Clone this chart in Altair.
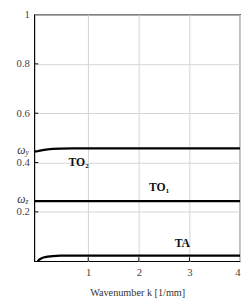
import altair as alt
import pandas as pd

# data
to2_k = [-0.065, 0.0, 0.1, 0.2, 0.3, 0.45, 0.7, 1.5, 4.0]
to2_w = [0.444, 0.446, 0.450, 0.453, 0.455, 0.456, 0.457, 0.457, 0.457]
to1_k = [-0.065, 1.0, 2.0, 3.0, 4.0]
to1_w = [0.244, 0.244, 0.244, 0.244, 0.244]
ta_k = [0.0, 0.03, 0.06, 0.1, 0.15, 0.2, 0.3, 0.45, 0.7, 4.0]
ta_w = [0.0, 0.006, 0.010, 0.014, 0.017, 0.019, 0.021, 0.0225, 0.023, 0.023]

label_text = ["TO\u2082", "TO\u2081", "TA"]
label_k = [0.81, 2.40, 2.86]
label_w = [0.40, 0.30, 0.072]

omega_sub = ["y", "z"]
omega_w = [0.452, 0.25]

x_ticks = [1, 2, 3, 4]
y_ticks = [0.2, 0.4, 0.6, 0.8, 1]

rows = []
for k, w in zip(to2_k, to2_w):
    rows.append({"k": k, "w": w, "s": "TO2"})
for k, w in zip(to1_k, to1_w):
    rows.append({"k": k, "w": w, "s": "TO1"})
for k, w in zip(ta_k, ta_w):
    rows.append({"k": k, "w": w, "s": "TA"})
curves = pd.DataFrame(rows)
labels = pd.DataFrame({"t": label_text, "k": label_k, "w": label_w})
omegas = pd.DataFrame({"sub": omega_sub, "w": omega_w})
xt = pd.DataFrame({"k": x_ticks[:-1]})
yt = pd.DataFrame({"w": y_ticks[:-1]})

FONT = "Liberation Serif"
xs = alt.Scale(domain=[-0.065, 4], nice=False, zero=False)
ys = alt.Scale(domain=[0, 1], nice=False, zero=False)

lines = alt.Chart(curves).mark_line(color="black", strokeWidth=2.3, clip=True).encode(
    x=alt.X("k:Q", scale=xs, title="Wavenumber k [1/mm]",
            axis=alt.Axis(values=x_ticks, grid=True, gridColor="#d4d4d4",
                          domain=False, ticks=False, labelPadding=6,
                          titlePadding=10, format="d")),
    y=alt.Y("w:Q", scale=ys, title=None,
            axis=alt.Axis(values=y_ticks, grid=True, gridColor="#d4d4d4",
                          domain=False, ticks=False, labelPadding=5,
                          labelExpr="datum.value == 1 ? '1' : format(datum.value, '.1f')")),
    detail="s:N",
)

txt = alt.Chart(labels).mark_text(font=FONT, fontSize=12, fontWeight="bold",
                                  color="#111").encode(
    x=alt.X("k:Q", scale=xs), y=alt.Y("w:Q", scale=ys), text="t:N")

om = alt.Chart(omegas).mark_text(font=FONT, fontSize=12, fontStyle="italic",
                                 align="right", color="#333").encode(
    x=alt.value(-9), y=alt.Y("w:Q", scale=ys), text=alt.value("\u03c9"))
oms = alt.Chart(omegas).mark_text(font=FONT, fontSize=7.5, fontStyle="italic",
                                  align="left", dy=3, color="#333").encode(
    x=alt.value(-9), y=alt.Y("w:Q", scale=ys), text="sub:N")

ytick = alt.Chart(yt).mark_rule(color="black").encode(
    x=alt.value(0), x2=alt.value(4), y=alt.Y("w:Q", scale=ys))
xtick = alt.Chart(xt).mark_rule(color="black").encode(
    x=alt.X("k:Q", scale=xs), y=alt.value(253), y2=alt.value(249))

chart = alt.layer(lines, ytick, xtick, txt, om, oms).properties(
    width=211, height=253,
    autosize=alt.AutoSizeParams(type="none"),
    padding={"left": 27, "top": 3, "right": 2, "bottom": 34},
).configure_view(stroke="black", strokeWidth=1.2).configure_axis(
    labelFont=FONT, titleFont=FONT, labelFontSize=11, titleFontSize=10.5,
    labelColor="#444", titleColor="#333", titleFontWeight="normal"
)

chart.save("out.html", embed_options={"renderer": "svg", "actions": False})
